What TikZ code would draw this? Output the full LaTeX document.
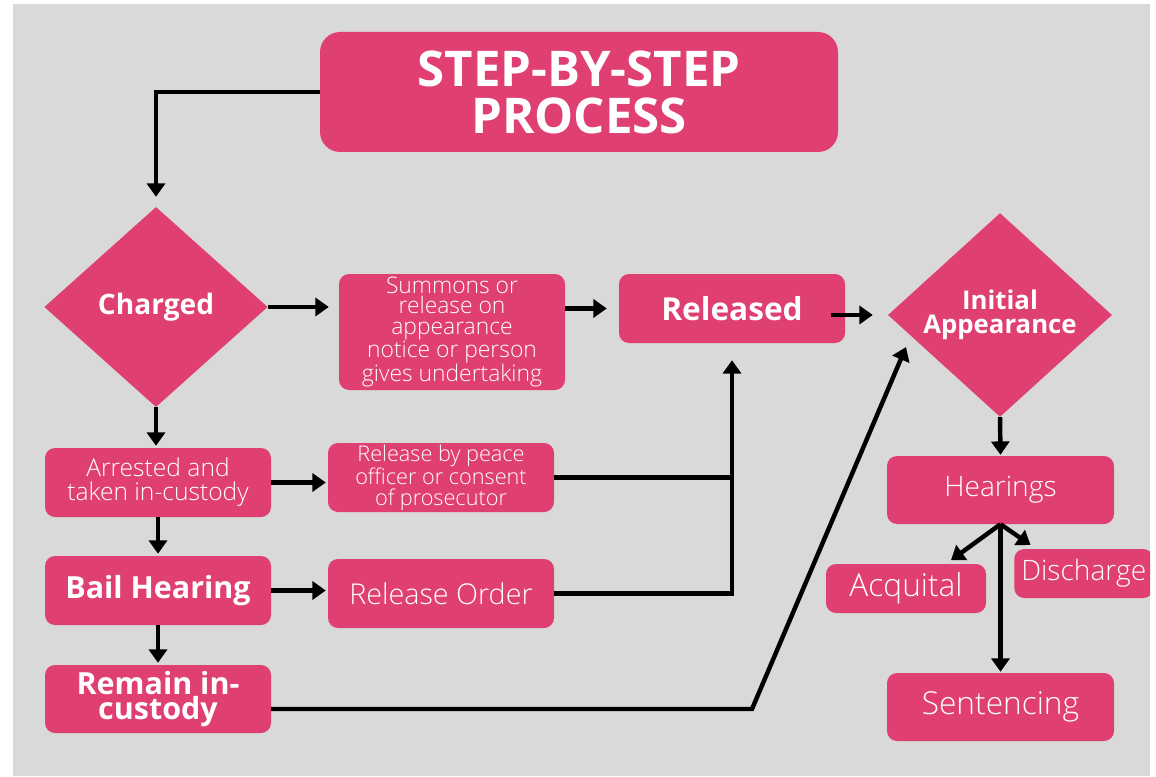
\documentclass[tikz,border=0pt]{standalone}
\usepackage{fontspec}
\setmainfont{Open Sans}
\newfontfamily\thinfont{Open Sans Light}
\usepackage{tikz}
\usetikzlibrary{arrows.meta,calc,shapes.geometric}
\definecolor{panelgray}{RGB}{217,217,217}
\definecolor{steppink}{RGB}{224,63,114}
\tikzset{
  wire/.style={black,line width=3.8pt},
  flow/.style={wire,-{Triangle[length=4mm,width=5.4mm]}},
  stepbox/.style={fill=steppink,text=white,rounded corners=0.3cm,align=center,
                  inner sep=0pt,minimum width=6.78cm,minimum height=2.07cm},
  decision/.style={diamond,fill=steppink,text=white,align=center,inner sep=0pt,
                   minimum width=6.7cm,minimum height=6cm},
  heavy/.style={font=\bfseries\fontsize{26}{21}\selectfont},
  light/.style={font=\thinfont\fontsize{24}{20}\selectfont},
}

\begin{document}
\begin{tikzpicture}[x=1cm,y=1cm]
  \path[use as bounding box] (0,0) rectangle (34.68,23.28);
  \fill[panelgray] (0.39,0) rectangle (34.5,23.16);
  \clip (0.39,0) rectangle (34.5,23.16);

  \node[stepbox,rounded corners=0.6cm,minimum width=15.54cm,minimum height=3.6cm,
        font=\bfseries\fontsize{42}{40}\selectfont] (title) at (17.37,20.52)
    {STEP-BY-STEP\\PROCESS};

  % left column
  \node[decision,font=\bfseries\fontsize{24}{20}\selectfont] (charged) at (4.68,14.07) {Charged};
  \node[stepbox,font=\thinfont\fontsize{21}{20.5}\selectfont] (arrested) at (4.74,8.805)
    {Arrested and\\taken in-custody};
  \node[stepbox,heavy] (bail) at (4.74,5.565) {Bail Hearing};
  \node[stepbox,heavy,minimum height=2.04cm] (remain) at (4.74,2.31) {Remain in-\\custody};

  % middle column
  \node[stepbox,minimum height=3.48cm,font=\thinfont\fontsize{19.5}{17.6}\selectfont] (summons) at (13.56,13.32)
    {Summons or\\release on\\appearance\\notice or person\\gives undertaking};
  \node[stepbox,font=\thinfont\fontsize{18.5}{18}\selectfont] (peace) at (13.23,8.955)
    {Release by peace\\officer or consent\\of prosecutor};
  \node[stepbox,font=\thinfont\fontsize{24.5}{20}\selectfont] (order) at (13.23,5.475) {Release Order};
  \node[stepbox,font=\bfseries\fontsize{27}{22}\selectfont] (released) at (21.96,14.025) {Released};

  % right column
  \node[decision,minimum width=6.72cm,font=\bfseries\fontsize{22}{21}\selectfont] (initial) at (30.0,13.83)
    {Initial\\Appearance};
  \node[stepbox,light,minimum width=6.81cm,minimum height=2.04cm] (hearings) at (30.015,8.58) {Hearings};
  \node[stepbox,minimum width=4.8cm,minimum height=1.47cm,font=\thinfont\fontsize{27}{22}\selectfont] (acquital)
    at (27.18,5.625) {Acquital};
  \node[stepbox,light,anchor=west,minimum width=0pt,minimum height=1.47cm,inner xsep=0.21cm] (discharge)
    at (30.42,6.075) {Discharge};
  \node[stepbox,minimum width=6.81cm,minimum height=2.04cm,font=\thinfont\fontsize{27}{22}\selectfont] (sentencing)
    at (30.015,2.07) {Sentencing};

  \coordinate (kink) at (22.56,2.01);
  \coordinate (aim) at (27.18,12.87);

  % connectors
  \draw[flow,shorten >=0.3cm] (title.west) -| (charged.north);
  \draw[flow,shorten >=0.3cm] (charged.east) -- (summons.west |- charged.east);
  \draw[flow,shorten >=0.36cm] (summons.east |- released.west) -- (released.west);
  \draw[flow,shorten <=-0.42cm,shorten >=0.45cm] (released.east |- initial.west) -- (initial.west);

  \draw[flow,shorten >=0.06cm] (charged.south) -- (charged.south |- arrested.north);
  \draw[flow,shorten >=0.06cm] (arrested.south) -- (bail.north);
  \draw[flow,shorten >=0.06cm] (bail.south) -- (remain.north);
  \draw[flow,shorten >=0.06cm] (arrested.east) -- (arrested.east -| peace.west);
  \draw[flow,shorten >=0.06cm] (bail.east) -- (bail.east -| order.west);

  \draw[wire] (peace.east) -- (peace.east -| released.south);
  \draw[flow,shorten >=0.51cm] (order.east) -| (released.south);
  \draw[flow] (remain.east |- kink) -- (kink) -- (aim);

  \draw[flow,shorten >=0.03cm] (initial.south) -- (hearings.north);
  \draw[flow,shorten >=0.03cm] (hearings.south) -- (sentencing.north);
  \draw[flow,shorten >=0.18cm] (hearings.south) -- ($(acquital.north)!0.5!(acquital.north east)$);
  \draw[flow,shorten >=0.2cm] (hearings.south) -- ($(discharge.north west)+(0.66,0)$);
\end{tikzpicture}
\end{document}
